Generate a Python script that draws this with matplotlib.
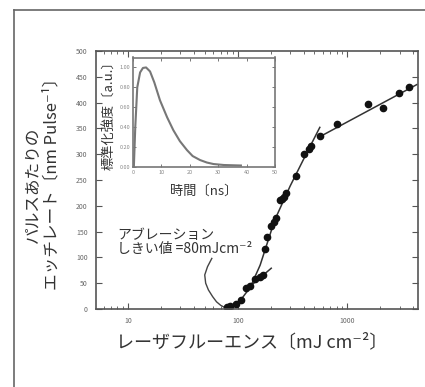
import matplotlib.pyplot as plt
from matplotlib.lines import Line2D
from matplotlib.ticker import FixedLocator, LogLocator, NullFormatter

plt.rcParams['font.family'] = ['Noto Sans CJK JP', 'DejaVu Sans']

# ---- data ----
# etch rate points (fluence mJ/cm2, nm/pulse)
fluence = [79, 85, 97, 108, 120, 128, 143, 158, 170, 176, 183, 202, 212, 225,
           241, 255, 265, 277, 342, 406, 451, 470, 560, 810, 1531, 2123, 2972, 3660]
rate = [4, 5, 10, 18, 40, 45, 58, 62, 66, 117, 140, 160, 168, 176,
        211, 214, 218, 224, 258, 300, 311, 315, 335, 358, 398, 389, 418, 431]

# fitted lines
fit1_x = [80, 100, 130, 160, 217, 300, 420, 560]
fit1_y = [0, 10, 42, 85, 172, 238, 300, 352]
fit2_x = [550, 4300]
fit2_y = [333, 435]
tail_x = [133, 202]
tail_y = [46, 79]

# annotation hook curve
hook_x = [58, 53, 50, 51, 54, 59, 64, 70, 76, 82]
hook_y = [98, 82, 66, 50, 37, 24, 14, 7, 3, 1]

# inset pulse shape
pulse_t = [0.3, 0.8, 1.5, 2.5, 3.5, 4.6, 6, 7.5, 9.5, 12, 14.2, 16.5, 19, 21,
           23.6, 26, 28.3, 32, 38]
pulse_v = [0.0, 0.4, 0.8, 0.95, 0.995, 1.0, 0.96, 0.85, 0.67, 0.5, 0.37, 0.26,
           0.17, 0.11, 0.07, 0.045, 0.03, 0.02, 0.015]

yticks = [0, 50, 100, 150, 200, 250, 300, 350, 400, 450, 500]
xticks = [10, 100, 1000]
inset_xticks = [0, 10, 20, 30, 40, 50]
inset_yticks = [0.0, 0.2, 0.4, 0.6, 0.8, 1.0]

W, H = 425, 387
fig = plt.figure(figsize=(W / 100, H / 100), dpi=100)
fig.patch.set_facecolor('white')

# outer frame
fig.add_artist(Line2D([14 / W, 14 / W], [0, 1 - 10 / H], transform=fig.transFigure, color='#666', lw=1.2))
fig.add_artist(Line2D([14 / W, 1], [1 - 10 / H, 1 - 10 / H], transform=fig.transFigure, color='#666', lw=1.2))

# main axes
ax = fig.add_axes([96 / W, 1 - 309 / H, (418 - 96) / W, (309 - 51) / H])
ax.set_xscale('log')
ax.set_xlim(5.1, 4400)
ax.set_ylim(0, 500)

ax.plot(fit1_x, fit1_y, color='#333', lw=1.1)
ax.plot(fit2_x, fit2_y, color='#333', lw=1.1)
ax.plot(tail_x, tail_y, color='#333', lw=1.1)
ax.plot(hook_x, hook_y, color='#444', lw=1.0)
ax.plot(fluence, rate, 'o', color='#111', ms=4.5, mec='#111')

ax.xaxis.set_major_locator(FixedLocator(xticks))
ax.set_xticklabels([str(v) for v in xticks])
ax.xaxis.set_minor_locator(LogLocator(base=10, subs=range(2, 10)))
ax.xaxis.set_minor_formatter(NullFormatter())
ax.set_yticks(yticks)
ax.set_yticklabels([str(v) for v in yticks])
ax.tick_params(which='both', direction='in', top=True, right=True, colors='#555',
               labelsize=5, labelcolor='#666')
ax.tick_params(which='major', length=4, width=0.8, pad=6)
ax.tick_params(which='minor', length=2, width=0.6)
for s in ax.spines.values():
    s.set_color('#555')
    s.set_linewidth(1.2)

# annotation
ax.text(8.0, 157, 'アブレーション\nしきい値 =80mJcm⁻²', ha='left', va='top',
        fontsize=10, color='#333', linespacing=1.0,
        bbox=dict(facecolor='white', edgecolor='none', pad=1))

# axis labels
fig.text(252 / W, 1 - 342 / H, 'レーザフルーエンス〔mJ cm⁻²〕', ha='center', va='center',
         fontsize=13, color='#333')
fig.text(33 / W, 1 - 185 / H, 'パルスあたりの', rotation=90, ha='center', va='center',
         fontsize=12, color='#333')
fig.text(52 / W, 1 - 180 / H, 'エッチレート〔nm Pulse⁻¹〕', rotation=90, ha='center', va='center',
         fontsize=12, color='#333')

# inset
ins = fig.add_axes([133 / W, 1 - 167 / H, (275 - 133) / W, (167 - 57.5) / H])
ins.plot(pulse_t, pulse_v, color='#777', lw=1.5)
ins.set_xlim(0, 50)
ins.set_ylim(0, 1.1)
ins.set_xticks(inset_xticks)
ins.set_xticklabels([str(v) for v in inset_xticks])
ins.set_yticks(inset_yticks)
ins.set_yticklabels(['%.2f' % v for v in inset_yticks])
ins.tick_params(direction='in', top=True, right=True, length=2.5, width=0.7,
                colors='#777', labelsize=4, labelcolor='#888', pad=2)
for s in ins.spines.values():
    s.set_color('#777')
    s.set_linewidth(1.2)
ins.set_xlabel('時間〔ns〕', fontsize=9.5, color='#333', labelpad=7)
ins.set_ylabel('標準化強度〔a.u.〕', fontsize=9.5, color='#333', labelpad=2)

fig.savefig('out.png', dpi=100)
